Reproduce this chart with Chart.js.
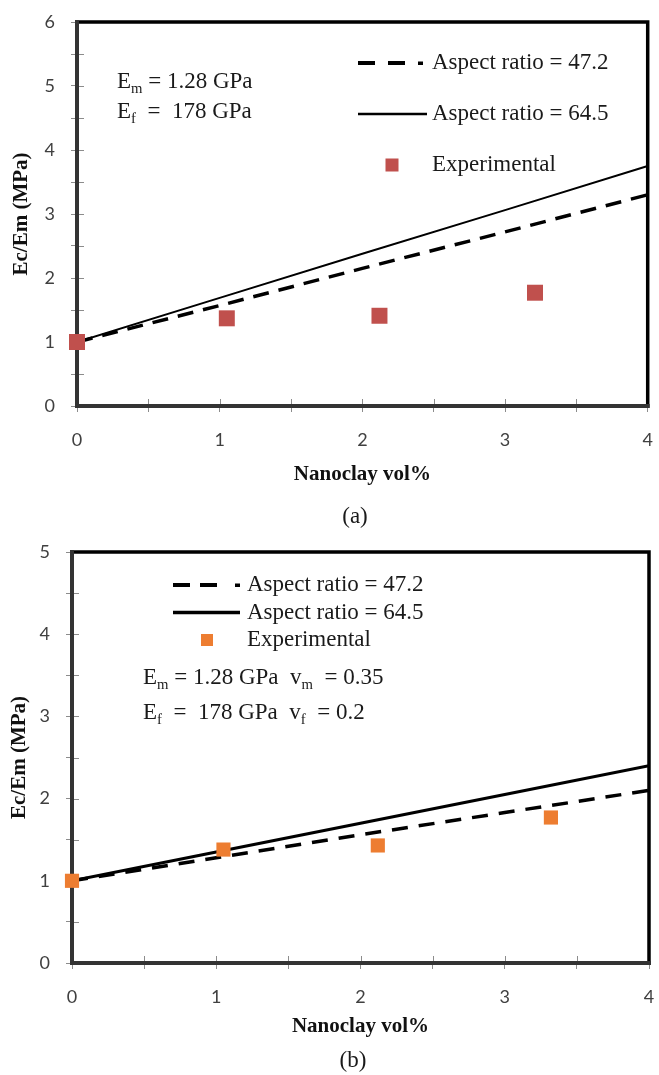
<!DOCTYPE html>
<html>
<head>
<meta charset="utf-8">
<script src="https://cdn.jsdelivr.net/npm/chart.js@4/dist/chart.umd.min.js"></script>
<style>
  html, body { margin: 0; padding: 0; background: #fff; }
  .box { position: absolute; left: 0; width: 659px; }
  #boxA { top: 0; height: 530px; }
  #boxB { top: 530px; height: 545px; }
</style>
</head>
<body>
<div class="box" id="boxA"><canvas id="chartA"></canvas></div>
<div class="box" id="boxB"><canvas id="chartB"></canvas></div>
<script>
// values
const volPct = [0, 1, 2, 3, 4];

// (a)
const topRatio47 = [1, 1.57, 2.15, 2.72, 3.3];
const topRatio64 = [1, 1.69, 2.38, 3.06, 3.75];
const topExpX = [0, 1.05, 2.12, 3.21];
const topExpY = [1, 1.37, 1.41, 1.77];

// (b)
const botRatio47 = [1, 1.28, 1.56, 1.83, 2.1];
const botRatio64 = [1, 1.35, 1.7, 2.05, 2.4];
const botExpX = [0, 1.05, 2.12, 3.32];
const botExpY = [1, 1.38, 1.43, 1.77];

const legendLabels = ['Aspect ratio = 47.2', 'Aspect ratio = 64.5', 'Experimental'];

const SERIF = "'Liberation Serif', 'Times New Roman', serif";
const SANS = "Lato, 'Liberation Sans', sans-serif";

function pts(xs, ys) {
  return xs.map((x, i) => ({ x: x, y: ys[i] }));
}

// frame, inner tick marks, in-plot legend and notes
const panelExtras = {
  id: 'panelExtras',
  beforeDatasetsDraw(chart, args, opts) {
    const ctx = chart.ctx;
    const a = chart.chartArea;
    ctx.save();
    ctx.strokeStyle = '#8c8c8c';
    ctx.lineWidth = 1;
    ['x', 'y'].forEach(id => {
      const s = chart.scales[id];
      s.ticks.forEach(t => {
        const p = Math.round(s.getPixelForValue(t.value)) + 0.5;
        ctx.beginPath();
        if (id === 'x') { ctx.moveTo(p, a.bottom); ctx.lineTo(p, a.bottom - 7); }
        else { ctx.moveTo(a.left, p); ctx.lineTo(a.left + 7, p); }
        ctx.stroke();
      });
    });
    ctx.lineCap = 'square';
    ctx.strokeStyle = '#000';
    ctx.lineWidth = 3.5;
    ctx.beginPath();
    ctx.moveTo(a.left, a.top); ctx.lineTo(a.right, a.top); ctx.lineTo(a.right, a.bottom);
    ctx.stroke();
    ctx.strokeStyle = '#333';
    ctx.lineWidth = 4;
    ctx.beginPath();
    ctx.moveTo(a.left, a.top); ctx.lineTo(a.left, a.bottom); ctx.lineTo(a.right, a.bottom);
    ctx.stroke();
    ctx.restore();
  },
  afterDraw(chart, args, opts) {
    const ctx = chart.ctx;
    const lg = opts.legend;
    ctx.save();
    chart.data.datasets.forEach((ds, i) => {
      const y = lg.y + i * lg.dy;
      if (ds.showLine) {
        ctx.strokeStyle = ds.borderColor;
        ctx.lineWidth = lg.lineWidth[i];
        if (ds.borderDash) {
          ctx.setLineDash(lg.dash);
          ctx.beginPath(); ctx.moveTo(lg.x0, y); ctx.lineTo(lg.x0 + lg.dashLen, y); ctx.stroke();
          ctx.setLineDash([]);
          ctx.fillStyle = ds.borderColor;
          ctx.fillRect(lg.dotX - 2.5, y - 1.5, 5, 3.5);
        } else {
          ctx.beginPath(); ctx.moveTo(lg.x0, y); ctx.lineTo(lg.x0 + lg.solidLen, y); ctx.stroke();
        }
      } else {
        ctx.fillStyle = ds.backgroundColor;
        ctx.fillRect(lg.markX - lg.box / 2, y - lg.box / 2, lg.box, lg.box);
      }
      ctx.fillStyle = '#1a1a1a';
      ctx.font = lg.size + 'px ' + SERIF;
      ctx.textBaseline = 'middle';
      ctx.textAlign = 'left';
      ctx.fillText(ds.label, lg.textX, y);
    });

    opts.notes.forEach(n => {
      let x = n.x;
      n.parts.forEach(p => {
        const sub = p[1] === 'sub';
        const size = sub ? n.size * 0.64 : n.size;
        ctx.font = size + 'px ' + SERIF;
        ctx.fillStyle = '#1a1a1a';
        ctx.textBaseline = 'middle';
        ctx.fillText(p[0], x, n.y + (sub ? n.size * 0.3 : 0));
        x += ctx.measureText(p[0]).width;
      });
    });

    ctx.font = opts.tag.size + 'px ' + SERIF;
    ctx.textAlign = 'center';
    ctx.textBaseline = 'middle';
    ctx.fillStyle = '#1a1a1a';
    ctx.fillText(opts.tag.text, opts.tag.x, opts.tag.y);
    ctx.restore();
  }
};

function halfTicks(v) {
  return Number.isInteger(v) ? v : '';
}

function makeScales(yMax, yWidth, xHeight, xTitlePad, yTitlePad) {
  const tickFont = { family: SANS, size: 18 };
  const grid = { drawOnChartArea: false, drawTicks: true, tickLength: 6, color: '#8c8c8c', lineWidth: 1 };
  return {
    x: {
      type: 'linear', min: 0, max: 4,
      ticks: { stepSize: 0.5, autoSkip: false, maxRotation: 0, callback: halfTicks, font: tickFont, color: '#404040', padding: 17 },
      grid: grid,
      border: { display: false },
      title: { display: true, text: 'Nanoclay vol%', color: '#111', font: { family: SERIF, size: 21, weight: 'bold' }, padding: { top: 0, bottom: xTitlePad } },
      afterFit: s => { s.height = xHeight; s.paddingLeft = 0; s.paddingRight = 0; }
    },
    y: {
      type: 'linear', min: 0, max: yMax,
      ticks: { stepSize: 0.5, autoSkip: false, callback: halfTicks, font: tickFont, color: '#404040', padding: 16 },
      grid: grid,
      border: { display: false },
      title: { display: true, text: 'Ec/Em (MPa)', color: '#111', font: { family: SERIF, size: 21, weight: 'bold' }, padding: { top: yTitlePad, bottom: 0 } },
      afterFit: s => { s.width = yWidth; s.paddingTop = 0; s.paddingBottom = 0; }
    }
  };
}

function makeDatasets(r47, r64, ex, ey, o) {
  return [
    { label: legendLabels[0], data: pts(volPct, r47), showLine: true, borderColor: '#000', borderWidth: o.dashW, borderDash: o.dash, pointRadius: 0, order: 1 },
    { label: legendLabels[1], data: pts(volPct, r64), showLine: true, borderColor: '#000', borderWidth: o.solidW, pointRadius: 0, order: 1 },
    { label: legendLabels[2], data: pts(ex, ey), showLine: false, pointStyle: 'rect', pointRadius: o.markR, backgroundColor: o.markColor, borderWidth: 0, order: 0, clip: false }
  ];
}

// (a)
new Chart(document.getElementById('chartA'), {
  type: 'scatter',
  data: {
    datasets: makeDatasets(topRatio47, topRatio64, topExpX, topExpY,
      { dashW: 3.5, dash: [16, 10], solidW: 2, markR: 11.3, markColor: '#C0504D' })
  },
  options: {
    responsive: true,
    maintainAspectRatio: false,
    animation: false,
    layout: { padding: { top: 22, right: 8, left: 0, bottom: 0 } },
    scales: makeScales(6, 77, 124, 42.8, 9),
    plugins: {
      legend: { display: false },
      tooltip: { enabled: false },
      panelExtras: {
        legend: { x0: 358, y: 63, dy: 51, dash: [17, 13], dashLen: 47, dotX: 420.5, solidLen: 69, lineWidth: [4, 2.5], markX: 392, box: 13, textX: 432, size: 23 },
        notes: [
          { x: 117, y: 82, size: 23, parts: [['E'], ['m', 'sub'], [' = 1.28 GPa']] },
          { x: 117, y: 112, size: 23, parts: [['E'], ['f', 'sub'], ['  =  178 GPa']] }
        ],
        tag: { text: '(a)', x: 355, y: 517, size: 23 }
      }
    }
  },
  plugins: [panelExtras]
});

// (b)
new Chart(document.getElementById('chartB'), {
  type: 'scatter',
  data: {
    datasets: makeDatasets(botRatio47, botRatio64, botExpX, botExpY,
      { dashW: 3.5, dash: [16, 11], solidW: 3.2, markR: 10, markColor: '#ED7D31' })
  },
  options: {
    responsive: true,
    maintainAspectRatio: false,
    animation: false,
    layout: { padding: { top: 22, right: 9, left: 0, bottom: 0 } },
    scales: makeScales(5, 72, 112, 36, 7),
    plugins: {
      legend: { display: false },
      tooltip: { enabled: false },
      panelExtras: {
        legend: { x0: 173, y: 55, dy: 27.5, dash: [17, 10], dashLen: 44, dotX: 237.5, solidLen: 67, lineWidth: [4, 3.5], markX: 207, box: 12, textX: 247, size: 23 },
        notes: [
          { x: 143, y: 148, size: 23, parts: [['E'], ['m', 'sub'], [' = 1.28 GPa  v'], ['m', 'sub'], ['  = 0.35']] },
          { x: 143, y: 183, size: 23, parts: [['E'], ['f', 'sub'], ['  =  178 GPa  v'], ['f', 'sub'], ['  = 0.2']] }
        ],
        tag: { text: '(b)', x: 353, y: 531, size: 23 }
      }
    }
  },
  plugins: [panelExtras]
});
</script>
</body>
</html>
